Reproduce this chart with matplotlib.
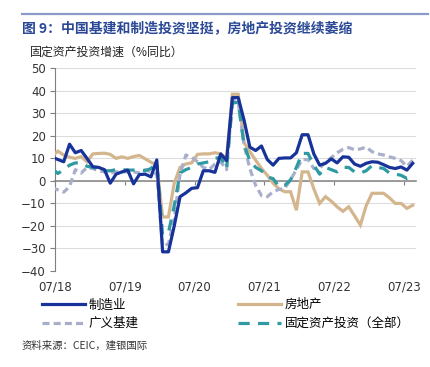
import numpy as np
import pandas as pd
import matplotlib
matplotlib.use("Agg")
import matplotlib.pyplot as plt
from matplotlib.lines import Line2D

plt.rcParams["font.family"] = ["DejaVu Sans", "Noto Sans CJK SC"]
CJK = ["Noto Sans CJK SC", "DejaVu Sans"]

# monthly data, Jun 2018 - Aug 2023 (% yoy)
months = pd.period_range("2018-06", "2023-08", freq="M")

manufacturing = [
    10.5,
    9.5, 8.5, 16.3, 12.5, 13.5, 10,
    6.3, 6, 5, -1, 3, 4,
    4.8, -1.3, 2.8, 3, 1.8, 9.3,
    -31.5, -31.5, -20, -7, -5.3, -3.3,
    -3, 4.5, 4.5, 3.8, 12, 9,
    37, 37, 27, 15, 13.5, 15.5,
    9.5, 7, 10, 10.2, 10.2, 12.5,
    20.5, 20.5, 12, 7, 7.8, 9.8,
    8, 10.7, 10.5, 7.5, 6.5, 7.8,
    8.5, 8.3, 7.2, 6, 5.5, 6.2,
    4.8, 7.8,
]
real_estate = [
    11,
    13.2, 11.5, 10.5, 10, 10.8, 8.5,
    12, 12.2, 12.3, 11.8, 10, 10.7,
    10, 10.8, 11.3, 9.8, 8.3, 7,
    -16, -16, -1, 6, 7.5, 8,
    11.8, 12, 12, 12.5, 12, 10,
    38.5, 38.5, 17, 13, 9.2, 5.5,
    2.5, -1, -3.5, -4.8, -4.8, -13,
    4, 4, -3.5, -10, -7, -9,
    -11.5, -13.5, -11.5, -15.5, -19.6, -11,
    -5.5, -5.5, -5.5, -7.5, -10, -10,
    -12.2, -10.8,
]
infrastructure = [
    -3,
    -4, -5, -2.5, 5, 3.5, 6,
    5.5, 4.5, 4, 3.5, 4, 4,
    4, 4, 3.5, 5, 4, 3,
    -29, -28, -17, 3, 11.5, 10.5,
    8.5, 6, 5, 7.5, 8.5, 5,
    36, 35, 16, 5.5, -2, -6.5,
    -7, -4.8, -3.8, -3.3, 0.5, 5,
    9.5, 9.5, 5.5, 5.5, 8.5, 10.3,
    12.5, 14, 14.8, 13.8, 14.2, 15,
    13, 12, 11.5, 10.7, 10, 9,
    6.5, 9.2,
]
fai_total = [
    5.5,
    3.3, 5, 7, 8, 8, 6.5,
    6, 5.5, 4.5, 4.5, 5, 5,
    4.8, 4.8, 4.8, 4.5, 5.5, 8,
    -24, -23, -11, 3.5, 5, 6,
    7.5, 8, 8.5, 10, 10.5, 5.5,
    34.5, 35, 16, 9, 6, 4.5,
    1.8, 1, -2.5, -2, 0.5, 6,
    12.2, 12.2, 7, 3, 6, 5,
    4, 6, 6, 4, 3.5, 4.5,
    6.8, 6, 5.5, 3.5, 3, 2.5,
    1.1, 2,
]

tick_labels = ["07/18", "07/19", "07/20", "07/21", "07/22", "07/23"]
yticks = list(range(-40, 51, 10))

start = pd.Period("2018-07", freq="M")
x = np.array([(p - start).n for p in months]) + 0.5
xticks = np.arange(0, 61, 12)

fig = plt.figure(figsize=(4.31, 3.67), dpi=100)
ax = fig.add_axes([0.1276, 0.2616, 0.8367, 0.5523])

ax.plot(x, real_estate, color="#d4b68e", lw=2.3, zorder=3, solid_joinstyle="miter")
ax.plot(x, infrastructure, color="#a9aecb", lw=2.3, zorder=4, dashes=(2.2, 1.3))
ax.plot(x, fai_total, color="#2f9aa3", lw=2.3, zorder=5, dashes=(3.5, 2.6))
ax.plot(x, manufacturing, color="#17339a", lw=2.3, zorder=6)

ax.set_xlim(0, 62)
ax.set_ylim(-40, 50)
ax.set_yticks(yticks)
ax.yaxis.grid(True, color="#dcdcdc", lw=0.8)
ax.set_axisbelow(True)

for s in ["top", "right"]:
    ax.spines[s].set_visible(False)
ax.spines["left"].set_color("#7f7f7f")
ax.spines["bottom"].set_position(("data", 0))
ax.spines["bottom"].set_color("#8c8c8c")
ax.spines["bottom"].set_linewidth(1.2)
ax.spines["bottom"].set_zorder(2)

ax.set_xticks(xticks)
ax.tick_params(axis="x", length=3, direction="out", color="#7f7f7f", labelbottom=False)
ax.tick_params(axis="y", length=3.5, color="#7f7f7f", labelsize=8.5, pad=3, labelcolor="#333333")

sec = ax.secondary_xaxis("bottom")
sec.set_xticks(xticks)
sec.set_xticklabels(tick_labels)
sec.tick_params(length=0, labelsize=8.5, pad=7, labelcolor="#333333")
sec.spines["bottom"].set_visible(False)

# title bar
fig.add_artist(Line2D([0.051, 0.993], [0.962, 0.962], color="#8b9bc9", lw=1.6))
fig.text(0.051, 0.921, "图 9：中国基建和制造投资坚挺，房地产投资继续萎缩", family=CJK,
         fontsize=10, fontweight="bold", color="#2a4896", va="center")
fig.text(0.07, 0.858, "固定资产投资增速（%同比）", family=CJK, fontsize=8.6,
         color="#222222", va="center")

handles = [
    Line2D([], [], color="#17339a", lw=2.3),
    Line2D([], [], color="#a9aecb", lw=2.3, dashes=(2.2, 1.3)),
    Line2D([], [], color="#d4b68e", lw=2.3),
    Line2D([], [], color="#2f9aa3", lw=2.3, dashes=(3.5, 2.6)),
]
labels = ["制造业", "广义基建", "房地产", "固定资产投资（全部）"]
fig.legend(handles, labels, loc="upper left", bbox_to_anchor=(0.0975, 0.187),
           ncol=2, frameon=False, prop={"family": CJK, "size": 9},
           handlelength=3.4, handletextpad=0.3, columnspacing=8.0,
           labelspacing=0.45, borderpad=0, borderaxespad=0)

fig.text(0.051, 0.057, "资料来源：CEIC，建银国际", family=CJK, fontsize=7.5,
         style="italic", color="#333333", va="center")

fig.savefig("out.png", dpi=100)
